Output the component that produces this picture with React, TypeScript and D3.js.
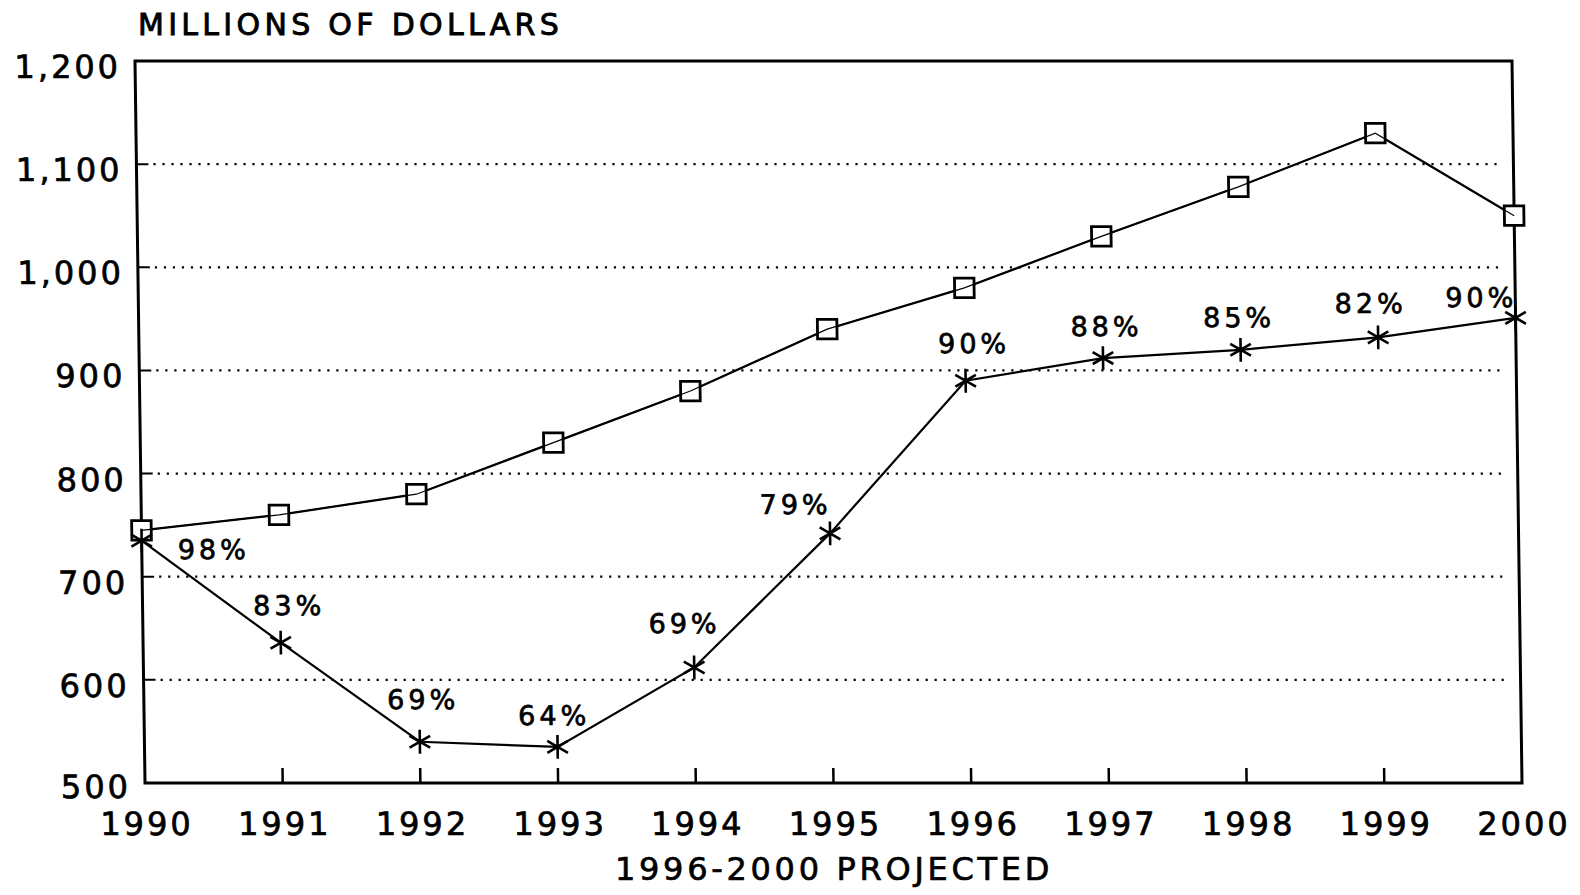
import {useEffect, useRef} from 'react';
import * as d3 from 'd3';

const years = [1990, 1991, 1992, 1993, 1994, 1995, 1996, 1997, 1998, 1999, 2000];
const totalValues = [745, 760, 780, 830, 880, 940, 980, 1030, 1078, 1130, 1050];
const fundedValues = [735, 636, 540, 535, 612, 742, 890, 912, 920, 932, 951];
const pctLabels = ['98%', '83%', '69%', '64%', '69%', '79%', '90%', '88%', '85%', '82%', '90%'];
const yTicks = [500, 600, 700, 800, 900, 1000, 1100, 1200];

// label nudges (px) relative to the star marker
const labelNudge: [number, number][] = [
    [70, 8], [7, -38], [2, -43], [-5, -32], [-11, -44], [-36, -29],
    [7, -38], [2, -32], [-3, -33], [-9, -34], [-36, -21],
];

export default function App() {
    const ref = useRef<SVGSVGElement | null>(null);

    useEffect(() => {
        const width = 1580;
        const height = 895;
        const left = 145;
        const right = 1522;
        const top = 61;
        const bottom = 783;
        const lean = 10 / (bottom - top); // the scanned page leans a little

        const svg = d3.select(ref.current);
        svg.selectAll('*').remove();
        svg.attr('viewBox', `0 0 ${width} ${height}`);

        svg.append('rect').attr('width', width).attr('height', height).attr('fill', '#fff');

        const x = d3.scaleLinear().domain([1990, 2000]).range([left, right]);
        const y = d3.scaleLinear().domain([500, 1200]).range([bottom, top]);

        const font = '"DejaVu Sans", Verdana, sans-serif';

        const g = svg.append('g')
            .attr('transform', `translate(${-lean * bottom},0) skewX(${(Math.atan(lean) * 180) / Math.PI})`);

        // dotted gridlines with a short solid stub at the left axis
        const grid = g.append('g');
        yTicks.filter((t) => t > 500 && t < 1200).forEach((t) => {
            grid.append('line')
                .attr('x1', left).attr('x2', left + 12)
                .attr('y1', y(t)).attr('y2', y(t))
                .attr('stroke', '#000').attr('stroke-width', 2);
            grid.append('line')
                .attr('x1', left + 17).attr('x2', right - 10)
                .attr('y1', y(t)).attr('y2', y(t))
                .attr('stroke', '#000').attr('stroke-width', 2.2)
                .attr('stroke-dasharray', '2.2 6.8');
        });

        // frame
        g.append('rect')
            .attr('x', left).attr('y', top)
            .attr('width', right - left).attr('height', bottom - top)
            .attr('fill', 'none').attr('stroke', '#000').attr('stroke-width', 3);

        // x ticks pointing inward
        g.append('g')
            .selectAll('line')
            .data(years.slice(1, -1))
            .enter()
            .append('line')
            .attr('x1', (d) => x(d)).attr('x2', (d) => x(d))
            .attr('y1', bottom).attr('y2', bottom - 15)
            .attr('stroke', '#000').attr('stroke-width', 2.5);

        const textStyle = (sel: d3.Selection<any, any, any, any>, size: number, spacing: number) =>
            sel.attr('font-family', font)
                .attr('font-size', size)
                .attr('letter-spacing', spacing)
                .attr('fill', '#000')
                .attr('stroke', '#000')
                .attr('stroke-width', 0.7);

        // y labels
        g.append('g')
            .selectAll('text')
            .data(yTicks)
            .enter()
            .append('text')
            .attr('x', left - 14)
            .attr('y', (d) => y(d) + (d === 500 ? 15 : 17))
            .attr('text-anchor', 'end')
            .call(textStyle, 32, 3)
            .text((d) => d3.format(',')(d));

        // x labels
        g.append('g')
            .selectAll('text')
            .data(years)
            .enter()
            .append('text')
            .attr('x', (d) => x(d) + 1.5)
            .attr('y', 835)
            .attr('text-anchor', 'middle')
            .call(textStyle, 32, 3)
            .text((d) => d);

        const line = d3.line<number>()
            .x((_, i) => x(years[i]))
            .y((d) => y(d));

        g.append('path')
            .attr('d', line(totalValues))
            .attr('fill', 'none').attr('stroke', '#000').attr('stroke-width', 2.2);

        g.append('path')
            .attr('d', line(fundedValues))
            .attr('fill', 'none').attr('stroke', '#000').attr('stroke-width', 2.2);

        const square = d3.symbol().type(d3.symbolSquare).size(380);
        g.append('g')
            .selectAll('path')
            .data(totalValues)
            .enter()
            .append('path')
            .attr('transform', (d, i) => `translate(${x(years[i])},${y(d)})`)
            .attr('d', square())
            .attr('fill', '#fff')
            .attr('stroke', '#000')
            .attr('stroke-width', 2.8);

        // thin line drawn through the squares, as in the original print
        g.append('path')
            .attr('d', line(totalValues))
            .attr('fill', 'none').attr('stroke', '#000').attr('stroke-width', 1.2);

        const star = d3.symbol().type(d3.symbolAsterisk).size(400);
        g.append('g')
            .selectAll('path')
            .data(fundedValues)
            .enter()
            .append('path')
            .attr('transform', (d, i) => `translate(${x(years[i])},${y(d)})`)
            .attr('d', star())
            .attr('fill', 'none')
            .attr('stroke', '#000')
            .attr('stroke-width', 2.6);

        g.append('g')
            .selectAll('text')
            .data(fundedValues)
            .enter()
            .append('text')
            .attr('x', (d, i) => x(years[i]) + labelNudge[i][0] + 2)
            .attr('y', (d, i) => y(d) + labelNudge[i][1] + 10)
            .attr('text-anchor', 'middle')
            .call(textStyle, 27, 4)
            .text((d, i) => pctLabels[i]);

        svg.append('text')
            .attr('x', 138).attr('y', 35)
            .call(textStyle, 30, 4.3)
            .attr('stroke-width', 0.9)
            .text('MILLIONS OF DOLLARS');

        svg.append('text')
            .attr('x', 834).attr('y', 880)
            .attr('text-anchor', 'middle')
            .call(textStyle, 32, 3.7)
            .text('1996-2000 PROJECTED');
    }, []);

    return (
        <svg
            ref={ref}
            width={1580}
            height={895}
            style={{position: 'absolute', left: 0, top: 0, display: 'block'}}
        ></svg>
    );
}
